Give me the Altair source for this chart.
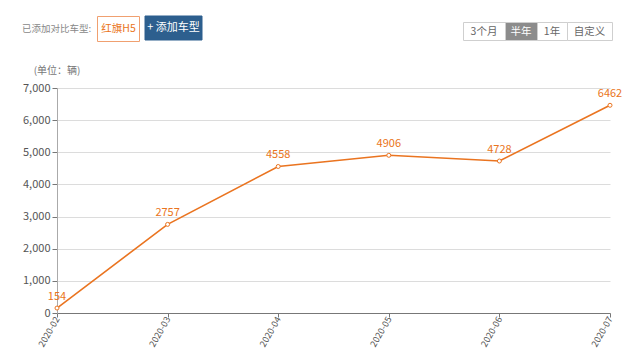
import altair as alt
import pandas as pd

months = ["2020-02", "2020-03", "2020-04", "2020-05", "2020-06", "2020-07"]
sales = [154, 2757, 4558, 4906, 4728, 6462]
y_ticks = [0, 1000, 2000, 3000, 4000, 5000, 6000, 7000]
range_buttons = ["3个月", "半年", "1年", "自定义"]

df = pd.DataFrame({"month": months, "sales": sales})

ORANGE = "#ea7420"
FONT = "Noto Sans CJK SC"

x = alt.X("month:O", scale=alt.Scale(type="point", padding=0),
          axis=alt.Axis(title=None, labelAngle=-60, labelFontSize=9, labelColor="#555",
                        labelFont=FONT, labelAlign="right", labelBaseline="middle",
                        domainColor="#777", tickColor="#777", tickSize=4, labelPadding=0,
                        grid=False))
y = alt.Y("sales:Q", scale=alt.Scale(domain=[0, 7000], nice=False),
          axis=alt.Axis(title=None, values=y_ticks, format=",.0f", labelFontSize=11,
                        labelColor="#555", labelFont=FONT, domainColor="#aaa",
                        tickColor="#777", tickSize=5, gridColor="#dcdcdc", labelPadding=2))

base = alt.Chart(df)
line = base.mark_line(color=ORANGE, strokeWidth=1.6).encode(x=x, y=y)
pts = base.mark_point(shape="circle", filled=True, fill="white", stroke=ORANGE,
                      strokeWidth=1, size=16, opacity=1).encode(x=x, y=y)
labels = base.mark_text(color=ORANGE, fontSize=11, font=FONT, dy=-11).encode(
    x=x, y=y, text=alt.Text("sales:Q"))

one = alt.Data(values=[{"a": 1}])

def txt(s, xv, yv, color, size=11, align="center"):
    return alt.Chart(one).mark_text(text=s, color=color, fontSize=size, font=FONT,
                                    align=align, baseline="middle").encode(
        x=alt.value(xv), y=alt.value(yv))

def box(x1, x2, y1, y2, fill, stroke, sw=1):
    return alt.Chart(one).mark_rect(fill=fill, stroke=stroke, strokeWidth=sw).encode(
        x=alt.value(x1), x2=alt.value(x2), y=alt.value(y1), y2=alt.value(y2))

deco = [
    txt("已添加对比车型:", -35, -59, "#888", 9.5, "left"),
    box(40.5, 82.5, -71.5, -46.5, "white", "#f0a070"),
    txt("红旗H5", 61.5, -59, ORANGE, 10.5),
    box(88, 145, -72, -48, "#2d5f8e", "#2d5f8e"),
    txt("+ 添加车型", 116.5, -60, "white", 11),
    txt("(单位：辆)", 0, -17, "#777", 10),
]
edges = [406, 448, 480, 510, 555]
for i, b in enumerate(range_buttons):
    sel = (b == "半年")
    deco.append(box(edges[i] + 0.5, edges[i + 1] + 0.5, -65.5, -47.5,
                    "#8c8c8c" if sel else "white", "#cfcfcf"))
    deco.append(txt(b, (edges[i] + edges[i + 1]) / 2, -56, "white" if sel else "#666", 10.5))

chart = alt.layer(line, pts, labels, *deco).properties(
    width=553, height=225,
    autosize=alt.AutoSizeParams(type="none"),
    padding={"left": 49, "top": 80, "right": 22, "bottom": 35},
    background="white",
).configure_view(stroke=None)

chart.save("out.html", embed_options={"renderer": "svg", "actions": False})
